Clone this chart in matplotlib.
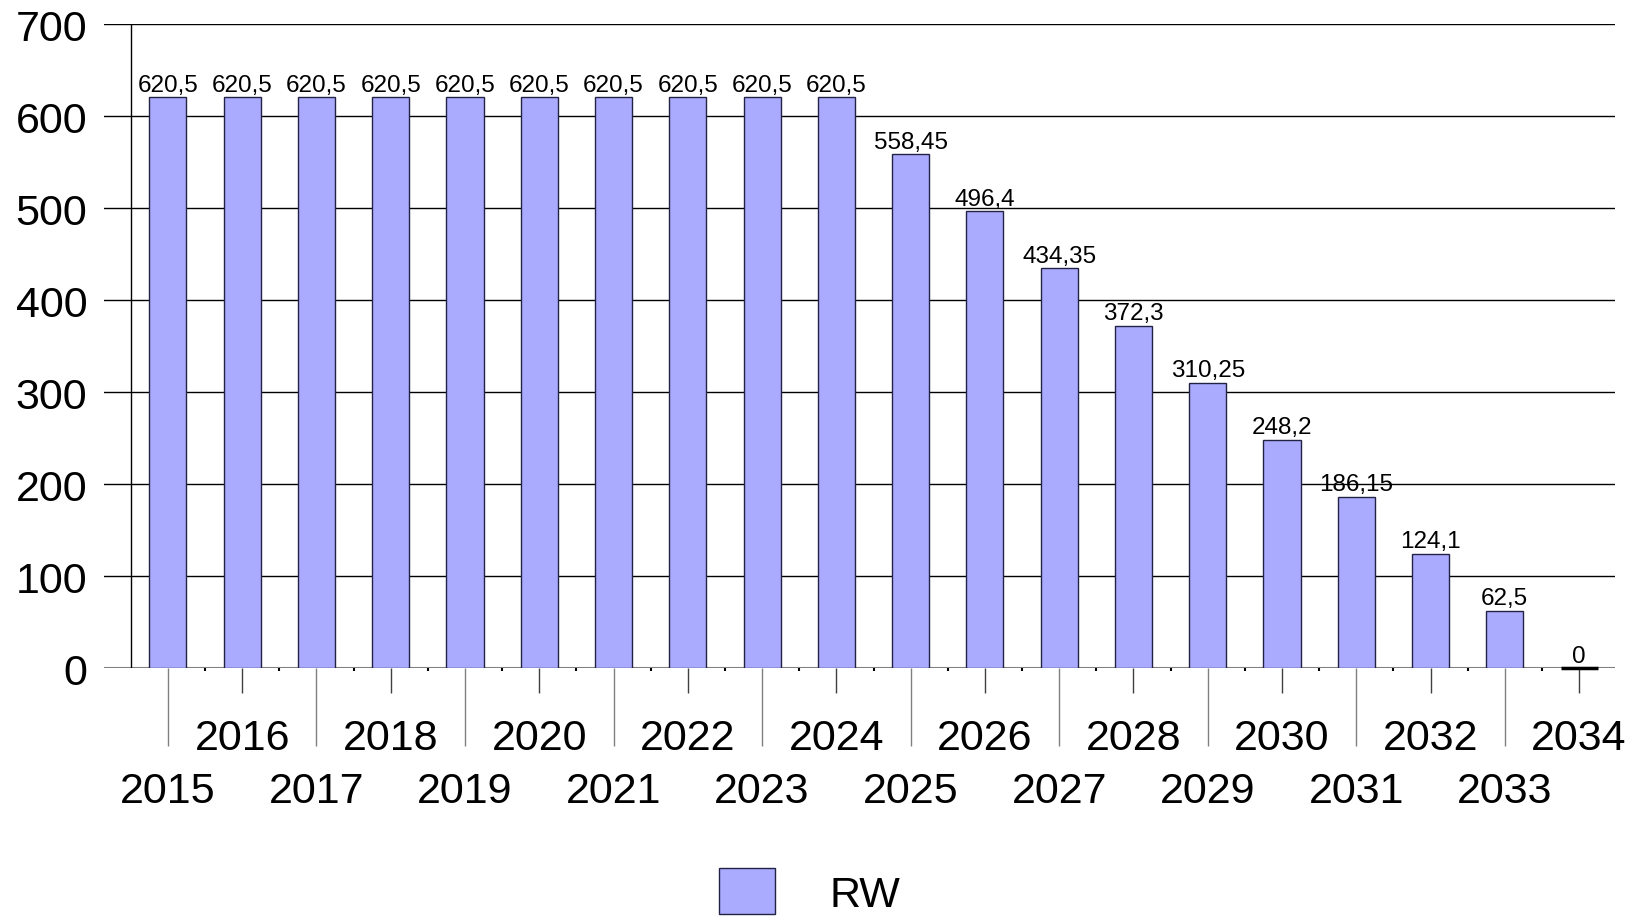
import matplotlib
matplotlib.use("Agg")
import matplotlib.pyplot as plt
from matplotlib.patches import Patch

plt.rcParams['font.family'] = ['Liberation Sans', 'DejaVu Sans']

years = [str(y) for y in range(2015, 2035)]
values = [620.5, 620.5, 620.5, 620.5, 620.5, 620.5, 620.5, 620.5, 620.5, 620.5,
          558.45, 496.4, 434.35, 372.3, 310.25, 248.2, 186.15, 124.1, 62.5, 0]
series_name = "RW"
yticks = [0, 100, 200, 300, 400, 500, 600, 700]

bar_color = '#aaaaff'
edge_color = '#222244'

fig = plt.figure(figsize=(16.36, 9.2), dpi=100)
ax = fig.add_axes([0.0636, 0.2728, 0.9234, 0.7000])

x = list(range(len(years)))
bars = ax.bar(x, values, width=0.5, color=bar_color, edgecolor=edge_color,
              linewidth=1.0, zorder=3)
for b, v in zip(bars, values):
    if v == 0:
        b.set_linewidth(2.5)
        b.set_edgecolor('black')
        b.set_clip_on(False)
labels = [f"{v:g}".replace('.', ',') for v in values]
ax.bar_label(bars, labels=labels, padding=1, fontsize=17.5, zorder=4)

ax.set_xlim(-0.86, 19.48)
ax.set_ylim(0, 700)
for s in ax.spines.values():
    s.set_visible(False)

# grid lines
ax.set_yticks(yticks)
ax.set_yticklabels([str(v) for v in yticks], fontsize=31)
ax.tick_params(axis='y', length=0, pad=12)
ax.yaxis.grid(True, color='black', linewidth=1.0, zorder=0)
ax.set_axisbelow(True)
ax.axhline(0, color='#808080', linewidth=1.5, zorder=2)
ax.axvline(-0.5, ymin=0, ymax=1, color='black', linewidth=1.0, zorder=2)

# staggered x tick labels
even = x[0::2]
odd = x[1::2]
ax.set_xticks(even, [years[i] for i in even])
ax.set_xticks(odd, [years[i] for i in odd], minor=True)
ax.tick_params(axis='x', which='major', length=56, width=1.0, color='#808080',
               labelsize=31, pad=18)
ax.tick_params(axis='x', which='minor', length=18, width=1.0, color='#404040',
               labelsize=31, pad=18)

# small boundary ticks
sec = ax.secondary_xaxis('bottom')
sec.set_xticks([i + 0.5 for i in x], [''] * len(x))
sec.tick_params(length=2.5, width=1.5, color='black')
sec.spines['bottom'].set_visible(False)

fig.legend(handles=[Patch(facecolor=bar_color, edgecolor=edge_color, linewidth=1.0)],
           labels=[series_name], loc='center', bbox_to_anchor=(0.495, 0.030),
           frameon=False, fontsize=31, handlelength=1.3, handleheight=1.25,
           handletextpad=1.25)

fig.savefig('out.png', dpi=100)
